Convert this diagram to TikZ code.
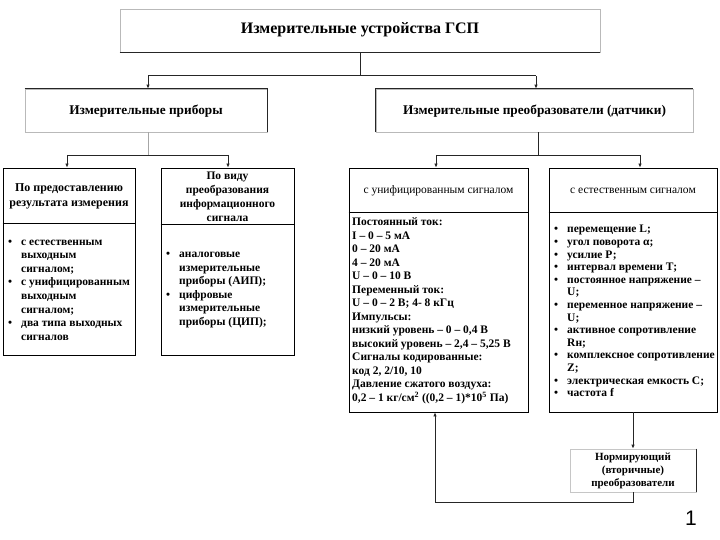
\documentclass[tikz,border=0pt]{standalone}
\usepackage{fontspec}
\setmainfont{Liberation Serif}
\newfontfamily\numfont{Liberation Sans}
\usetikzlibrary{arrows.meta}
\newcommand\bul{\makebox[13pt][l]{•}}
\newcommand\ind{\hspace*{13pt}}
\begin{document}
\begin{tikzpicture}[x=1pt,y=-1pt,
  graybox/.style={draw=gray!55, line width=0.7pt, inner sep=0pt},
  blackbox/.style={draw=black, line width=0.8pt, inner sep=0pt},
  darkedge/.style={draw=black!85, line width=1.1pt},
  conn/.style={draw=black!85, line width=1pt},
  thinconn/.style={draw=gray!70, line width=0.6pt},
  arr/.style={draw=black!85, line width=0.8pt, -{Latex[length=4pt,width=3.5pt]}},
  hdrbig/.style={font=\bfseries\fontsize{16}{19}\selectfont},
  hdrmid/.style={font=\bfseries\fontsize{13.3}{16}\selectfont},
  listtxt/.style={align=left, inner sep=0pt, font=\bfseries\fontsize{11.5}{13.6}\selectfont},
]
\useasboundingbox (0,0) rectangle (720,540);

% top box
\node[graybox, minimum width=480pt, minimum height=43pt] (top) at (360,30.5) {};
\draw[darkedge] (top.south west) -- (top.south east);
\node[hdrbig] (toptxt) at (360,30) {Измерительные устройства ГСП};

% level 2
\node[graybox, minimum width=242pt, minimum height=43pt] (L) at (146,110.5) {};
\draw[darkedge] (L.north west) -- (L.north east) -- (L.south east);
\node[hdrmid] (Ltxt) at (146,111.5) {Измерительные приборы};

\node[graybox, minimum width=317pt, minimum height=43pt] (R) at (534.5,110.5) {};
\draw[darkedge] (R.south west) -- (R.north west) -- (R.north east);
\node[hdrmid] (Rtxt) at (534.5,111.5) {Измерительные преобразователи (датчики)};

% level 3 boxes
\node[blackbox, minimum width=132pt, minimum height=187pt] (A) at (69,261.5) {};
\coordinate (Ad) at (69,223);
\draw[black, line width=0.8pt] (Ad -| A.west) -- (Ad -| A.east);
\node[align=center, font=\bfseries\fontsize{12}{15}\selectfont] (Ah) at (69,196) {По предоставлению\\результата измерения};
\node[listtxt, anchor=west] (Al) at (8,290) {\bul с естественным\\\ind выходным\\\ind сигналом;\\\bul с унифицированным\\\ind выходным\\\ind сигналом;\\\bul два типа выходных\\\ind сигналов};

\node[blackbox, minimum width=133pt, minimum height=187pt] (B) at (227.5,261.5) {};
\coordinate (Bd) at (227.5,224);
\draw[black, line width=0.8pt] (Bd -| B.west) -- (Bd -| B.east);
\node[align=center, font=\bfseries\fontsize{11.5}{14}\selectfont] (Bh) at (227.5,197) {По виду\\преобразования\\информационного\\сигнала};
\node[listtxt, anchor=west] (Bl) at (166,290) {\bul аналоговые\\\ind измерительные\\\ind приборы (АИП);\\\bul цифровые\\\ind измерительные\\\ind приборы (ЦИП);};

\node[blackbox, minimum width=179pt, minimum height=244pt] (C) at (438.5,290) {};
\coordinate (Cd) at (438.5,212);
\draw[black, line width=0.8pt] (Cd -| C.west) -- (Cd -| C.east);
\node[font=\fontsize{11.5}{14}\selectfont] (Ch) at (438.5,191) {с унифицированным сигналом};
\node[listtxt, anchor=west, font=\bfseries\fontsize{11.5}{13.5}\selectfont] (Cl) at (352,311) {Постоянный ток:\\I – 0 – 5 мА\\0 – 20 мА\\4 – 20 мА\\U – 0 – 10 В\\Переменный ток:\\U – 0 – 2 В; 4- 8 кГц\\Импульсы:\\низкий уровень – 0 – 0,4 В\\высокий уровень – 2,4 – 5,25 В\\Сигналы кодированные:\\код 2, 2/10, 10\\Давление сжатого воздуха:\\0,2 – 1 кг/см\textsuperscript{2} ((0,2 – 1)*10\textsuperscript{5} Па)};

\node[blackbox, minimum width=168pt, minimum height=244pt] (D) at (633,290) {};
\coordinate (Dd) at (633,212);
\draw[black, line width=0.8pt] (Dd -| D.west) -- (Dd -| D.east);
\node[font=\fontsize{11.5}{14}\selectfont] (Dh) at (633,191) {с естественным сигналом};
\node[listtxt, anchor=west, font=\bfseries\fontsize{11.5}{12.6}\selectfont] (Dl) at (554,311) {\bul перемещение L;\\\bul угол поворота α;\\\bul усилие Р;\\\bul интервал времени Т;\\\bul постоянное напряжение –\\\ind U;\\\bul переменное напряжение –\\\ind U;\\\bul активное сопротивление\\\ind Rн;\\\bul комплексное сопротивление\\\ind Z;\\\bul электрическая емкость С;\\\bul частота f};

% bottom box
\node[draw=gray!45, line width=0.6pt, inner sep=0pt, minimum width=126pt, minimum height=43pt] (E) at (633,470.5) {};
\draw[darkedge, line width=0.9pt] (E.north east) -- (E.south east);
\node[align=center, font=\bfseries\fontsize{11}{13}\selectfont] (Et) at (633,470.5) {Нормирующий\\(вторичные)\\преобразователи};

% connectors
\coordinate (j0) at (360,76);
\coordinate (jl) at (148,76);
\coordinate (jr) at (536,76);
\draw[conn] (top.south) -- (j0);
\draw[conn] (jl) -- (jr);
\draw[arr] (jl) -- (jl |- L.north);
\draw[arr] (jr) -- (jr |- R.north);

\coordinate (ml) at (148,155);
\coordinate (mla) at (67,155);
\coordinate (mlb) at (228,155);
\draw[thinconn] (ml |- L.south) -- (ml);
\draw[conn, line width=0.9pt] (mla) -- (mlb);
\draw[arr] (mla) -- (mla |- A.north);
\draw[arr] (mlb) -- (mlb |- B.north);

\coordinate (mr) at (538,155);
\coordinate (mra) at (436,155);
\coordinate (mrb) at (640,155);
\draw[conn, line width=0.8pt] (mr |- R.south) -- (mr);
\draw[conn, line width=0.8pt] (mra) -- (mrb);
\draw[arr] (mra) -- (mra |- C.north);
\draw[arr] (mrb) -- (mrb |- D.north);

\draw[arr] (D.south) -- (E.north);
\coordinate (b1) at (633,502);
\coordinate (b2) at (435,502);
\draw[arr] (E.south) -- (b1) -- (b2) -- (b2 |- C.south);

\node[font=\numfont\fontsize{21}{24}\selectfont] (pg) at (691,518) {1};
\end{tikzpicture}
\end{document}
